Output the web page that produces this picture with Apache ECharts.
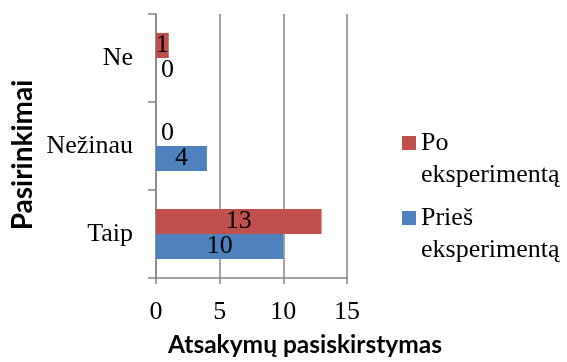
<!DOCTYPE html>
<html>
<head>
<meta charset="utf-8">
<script src="https://cdn.jsdelivr.net/npm/echarts@6/dist/echarts.min.js"></script>
<style>
  html, body { margin: 0; padding: 0; background: #fff; }
  #chart { width: 567px; height: 362px; }
</style>
</head>
<body>
<div id="chart"></div>
<script>
// Answer options, listed from the bottom of the axis to the top
const categories = ['Taip', 'Nežinau', 'Ne'];
// Response counts per option
const poValues = [13, 0, 1];
const priesValues = [10, 4, 0];
const poName = 'Po\neksperimentą';
const priesName = 'Prieš\neksperimentą';
const xTicks = { min: 0, max: 15, interval: 5 };
const xTitle = 'Atsakymų pasiskirstymas';
const yTitle = 'Pasirinkimai';

const SERIF = '"Liberation Serif", "Times New Roman", serif';
const SANS = 'Lato, "Open Sans", sans-serif';
const AXIS_GREY = '#868686';

// Zero-length bars keep their label just right of the axis
function barData(values) {
  return values.map(v => v === 0
    ? { value: v, label: { position: 'insideLeft', distance: 5 } }
    : v);
}

const labelStyle = {
  show: true,
  position: 'inside',
  color: '#000',
  fontFamily: SERIF,
  fontSize: 26
};

const chart = echarts.init(document.getElementById('chart'), null, { renderer: 'canvas' });
chart.setOption({
  animation: false,
  backgroundColor: '#fff',
  grid: { left: 156, right: 220, top: 14, bottom: 84, containLabel: false },
  legend: {
    orient: 'vertical',
    left: 402,
    top: 95,
    padding: 0,
    data: [poName, priesName],
    icon: 'rect',
    itemWidth: 14,
    itemHeight: 14,
    itemGap: -21,
    selectedMode: false,
    // blank first line keeps the swatch beside the first line of the name
    formatter: name => ' \n' + name,
    textStyle: {
      fontFamily: SERIF,
      fontSize: 26,
      color: '#000',
      lineHeight: 32
    }
  },
  xAxis: {
    type: 'value',
    min: xTicks.min,
    max: xTicks.max,
    interval: xTicks.interval,
    axisLine: { show: true, lineStyle: { color: AXIS_GREY, width: 1.5 } },
    axisTick: { show: true, length: 6, lineStyle: { color: AXIS_GREY, width: 1.5 } },
    axisLabel: { color: '#000', fontFamily: SERIF, fontSize: 26, margin: 21 },
    splitLine: { show: true, lineStyle: { color: AXIS_GREY, width: 1.5 } }
  },
  yAxis: {
    type: 'category',
    data: categories,
    axisLine: { show: true, lineStyle: { color: AXIS_GREY, width: 1.5 } },
    axisTick: { show: true, length: 8, lineStyle: { color: AXIS_GREY, width: 1.5 } },
    axisLabel: { color: '#000', fontFamily: SERIF, fontSize: 26, margin: 23 }
  },
  series: [
    {
      name: poName,
      type: 'bar',
      data: barData(poValues),
      itemStyle: { color: '#C0504D' },
      barGap: '0%',
      barCategoryGap: '43%',
      label: labelStyle
    },
    {
      name: priesName,
      type: 'bar',
      data: barData(priesValues),
      itemStyle: { color: '#4F81BD' },
      barGap: '0%',
      barCategoryGap: '43%',
      label: labelStyle
    }
  ],
  graphic: [
    {
      type: 'text',
      x: 305, y: 345,
      style: {
        text: xTitle,
        fontFamily: SANS, fontWeight: 'bold', fontSize: 24.5,
        fill: '#000', align: 'center', verticalAlign: 'middle'
      }
    },
    {
      type: 'text',
      x: 23, y: 155,
      rotation: Math.PI / 2,
      style: {
        text: yTitle,
        fontFamily: SANS, fontWeight: 'bold', fontSize: 28,
        fill: '#000', align: 'center', verticalAlign: 'middle'
      }
    }
  ]
});
</script>
</body>
</html>
